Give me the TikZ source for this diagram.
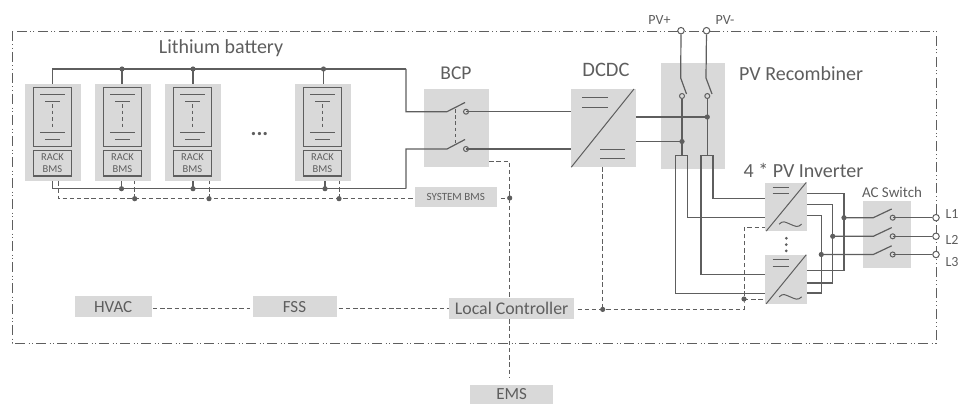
\documentclass[tikz,border=0pt]{standalone}
\usepackage{fontspec}
\setmainfont{Carlito}
\definecolor{ink}{HTML}{5E5E5E}
\definecolor{blockgray}{HTML}{D9D9D9}
\newcommand{\fs}[1]{\fontsize{#1}{#1}\selectfont}
\tikzset{
  block/.style={fill=blockgray,draw=none,inner sep=0pt,text=ink,align=center},
  cellbox/.style={draw=ink,line width=1.2pt,inner sep=0pt,text=ink,align=center,fill=none},
  txt/.style={inner sep=0pt,text=ink,align=center},
  wire/.style={draw=ink,line width=1.2pt,line join=miter},
  ctrl/.style={draw=ink,line width=1pt,dash pattern=on 4.4pt off 2.8pt},
  jdot/.style={circle,fill=ink,draw=none,inner sep=0pt,minimum size=5.2pt},
  port/.style={circle,fill=white,draw=ink,line width=1pt,inner sep=0pt,minimum size=6.5pt},
  contact/.style={circle,draw=ink,line width=1pt,inner sep=0pt,minimum size=5pt},
  sym/.style={draw=ink,line width=1pt},
}
\begin{document}
\begin{tikzpicture}[x=1pt,y=-1pt]
\useasboundingbox (0,0) rectangle (959,404);
% frame
\coordinate (fa) at (12,31); \coordinate (fb) at (936,343);
\draw[draw=ink,line width=.9pt,dash pattern=on 10pt off 3.5pt on 1pt off 2.5pt on 1pt off 3pt] (fa) rectangle (fb);
% racks
\foreach \n/\x/\y in {1/25/52.5,2/95/122,3/165/193,4/295/323.5}{
  \node[block,minimum width=56pt,minimum height=97pt] (rack\n) at (\x+28,132.5) {};
  \node[cellbox,minimum width=38pt,minimum height=58.6pt] (cell\n) at (\x+27.5,117) {};
  \node[cellbox,minimum width=38pt,minimum height=25.3pt,font=\fs{10.5}] (bms\n) at (\x+27.5,163.4) {RACK\\[1.5pt]BMS};
  \draw[sym] (\x+15,95) -- (\x+40,95);
  \draw[sym] (\x+20,101.7) -- (\x+35,101.7);
  \draw[draw=ink,line width=.9pt,dash pattern=on 3.5pt off 3pt] (\x+27.5,104) -- (\x+27.5,129);
  \draw[sym] (\x+15,132.7) -- (\x+40,132.7);
  \draw[sym] (\x+20,139) -- (\x+35,139);
}
\node[txt,font=\fs{20}] (libat) at (221,48) {Lithium battery};
\node[txt,font=\bfseries\fs{22}] (dots) at (259.5,134) {...};
% blocks
\node[block,minimum width=64.7pt,minimum height=78pt] (bcp) at (456.6,128) {};
\node[txt,font=\fs{19.5}] (bcplab) at (456,73) {BCP};
\node[block,minimum width=64.5pt,minimum height=78pt] (dcdc) at (603.7,128) {};
\node[txt,font=\fs{20.5}] (dcdclab) at (606,70) {DCDC};
\node[block,minimum width=64.3pt,minimum height=106pt] (pvr) at (692.8,116) {};
\node[txt,font=\fs{20},anchor=west] (pvrlab) at (739,74) {PV Recombiner};
\node[block,minimum width=41.7pt,minimum height=48.3pt] (inva) at (786.2,206.8) {};
\node[block,minimum width=41.7pt,minimum height=48.7pt] (invb) at (786.2,279.3) {};
\node[txt,font=\fs{20}] (invlab) at (803.5,170) {4 * PV Inverter};
\node[block,minimum width=47.4pt,minimum height=67pt] (acs) at (887,234.5) {};
\node[txt,font=\fs{15}] (acslab) at (892,192) {AC Switch};
\node[block,minimum width=82pt,minimum height=19.5pt,font=\fs{11}] (sbms) at (455.7,197.2) {SYSTEM BMS};
\node[block,minimum width=125.3pt,minimum height=21.3pt,font=\fs{17.8}] (lc) at (511.7,308.4) {Local Controller};
\node[block,minimum width=83.3pt,minimum height=19pt,font=\fs{17}] (ems) at (511.7,394.5) {\raisebox{-2pt}{EMS}};
\node[block,minimum width=77pt,minimum height=21.3pt,font=\fs{17}] (hvac) at (113.2,306.7) {HVAC};
\node[block,minimum width=84pt,minimum height=21.3pt,font=\fs{17}] (fss) at (294.5,306.7) {FSS};
% block symbols
\draw[sym] (dcdc.south west) -- (634,89);
\draw[sym] (582,98) -- (608,98); \draw[sym] (582,107.5) -- (608,107.5);
\draw[sym] (600,149) -- (625,149); \draw[sym] (600,158.5) -- (625,158.5);
\foreach \b in {inva,invb}{
  \draw[sym] ([shift={(1,0)}]\b.south west) -- ([shift={(-1,0)}]\b.north east);
  \draw[sym] ([shift={(7.5,5)}]\b.north west) -- ([shift={(24,5)}]\b.north west);
  \draw[sym] ([shift={(7.5,11.5)}]\b.north west) -- ([shift={(24,11.5)}]\b.north west);
  \draw[sym] ([shift={(14,-7)}]\b.south west) .. controls +(4,-4) and +(-5,-2) .. ([shift={(25,-7)}]\b.south west)
     .. controls +(5,2) and +(-4,4) .. ([shift={(36.5,-7)}]\b.south west);
}
\foreach \n/\y in {1/238.3,2/244.6,3/250.9}{ \fill[ink] (786.3,\y) circle (1.5pt); }
% junctions
\foreach \n/\x in {1/122,2/193,3/323.5}{ \node[jdot] (t\n) at (\x,69) {}; }
\foreach \n/\x in {1/121.5,2/193,3/325}{ \node[jdot] (m\n) at (\x,188.7) {}; }
\foreach \n/\x in {1/134.7,2/209,3/339}{ \node[jdot] (d\n) at (\x,198.7) {}; }
\coordinate (tl) at (52.5,69); \coordinate (tr) at (406,69);
\coordinate (ml) at (52.5,188.7); \coordinate (mr) at (406,188.7);
\coordinate (dl) at (58.5,198.7);
% battery buses
\draw[wire] (rack1.north -| tl) -- (tl) -- (t1.center) -- (t2.center) -- (t3.center) -- (tr);
\foreach \n/\k in {1/2,2/3,3/4}{ \draw[wire] (t\n.center) -- (t\n |- rack\k.north); }
\draw[wire] (rack1.south -| ml) -- (ml) -- (m1.center) -- (m2.center) -- (m3.center) -- (mr);
\foreach \n/\k in {1/2,2/3,3/4}{ \draw[wire] (m\n.center) -- (m\n |- rack\k.south); }
\draw[ctrl] (rack1.south -| dl) -- (dl) -- (d1.center) -- (d2.center) -- (d3.center) -- (sbms.west |- dl);
\foreach \n/\k in {1/2,2/3,3/4}{ \draw[ctrl] (d\n.center) -- (d\n |- rack\k.south); }
% BCP switches
\node[contact] (ca) at (466,111.7) {};
\node[contact] (cb) at (466,149) {};
\coordinate (ba) at (447,111.7); \coordinate (bb) at (447,149);
\draw[wire] (tr) -- (tr |- ba) -- (ba) -- (465,102.5);
\draw[wire] (mr) -- (mr |- bb) -- (bb) -- (465,139.5);
\draw[ctrl,dash pattern=on 3.6pt off 2.6pt] (455.7,109) -- (455.7,143);
\draw[wire] (ca.center) -- (ca -| dcdc.west);
\draw[wire] (cb.center) -- (cb -| dcdc.west);
% control lines
\node[jdot] (j1) at (509.7,198) {};
\node[jdot] (j2) at (602.7,309.4) {};
\node[jdot] (j3) at (744,299) {};
\coordinate (c1) at (509.7,161.5);
\coordinate (c2) at (509.7,378);
\coordinate (c3) at (744,309.4);
\coordinate (c4) at (744,227.3);
\draw[ctrl] (bcp.east |- c1) -- (c1) -- (j1.center) -- (j1 |- lc.north);
\draw[ctrl] (c2 |- lc.south) -- (c2);
\draw[ctrl] ([xshift=4pt]sbms.east |- j1) -- (j1.center);
\draw[ctrl] (dcdc.south -| j2) -- (j2.center);
\draw[ctrl] ([xshift=3pt]lc.east |- j2) -- (j2.center) -- (c3) -- (j3.center) -- (c4) -- (inva.west |- c4);
\draw[ctrl] (j3.center) -- (invb.west |- j3);
\draw[ctrl] ([xshift=1pt]hvac.east |- 0,308.8) -- ([xshift=-2pt]fss.west |- 0,308.8);
\draw[ctrl] ([xshift=2pt]fss.east |- 0,308.8) -- (lc.west |- 0,308.8);
% PV
\node[port] (pvp) at (681,30.7) {};
\node[port] (pvm) at (706.5,30.7) {};
\node[txt,font=\fs{14}] (pvpl) at (659.5,20) {PV+};
\node[txt,font=\fs{14}] (pvml) at (725,20) {PV-};
\node[contact] (cp) at (682,96) {};
\node[contact] (cm) at (707.3,96) {};
\draw[wire] (pvp) -- (680.7,78) -- (686.5,94);
\draw[wire] (pvm) -- (706,78) -- (712,94);
\node[jdot] (jm) at (707.3,117) {};
\node[jdot] (jp) at (682,141.5) {};
\draw[wire] (cp.south) -- (jp.center) -- (682,155.7);
\draw[wire] (cm.south) -- (jm.center) -- (707.3,155.7);
\draw[wire] (dcdc.east |- jm) -- (jm.center);
\draw[wire] (dcdc.east |- jp) -- (jp.center);
\draw[wire] (675.7,293.7) -- (675.7,155.7) -- (687.7,155.7) -- (687.7,217.3) -- (inva.west |- 0,217.3);
\draw[wire] (701,274.7) -- (701,155.7) -- (713,155.7) -- (713,198.7) -- (inva.west |- 0,198.7);
\draw[wire] (701,274.7) -- (invb.west |- 0,274.7);
\draw[wire] (675.7,293.7) -- (invb.west |- 0,293.7);
% inverter outputs
\node[jdot] (l1) at (844,217.7) {};
\node[jdot] (l2) at (832.7,236.3) {};
\node[jdot] (l3) at (821.3,254.5) {};
\draw[wire] (inva.east |- 0,193.7) -- (844,193.7) -- (l1.center) -- (844,270.3) -- (invb.east |- 0,270.3);
\draw[wire] (inva.east |- 0,204.3) -- (832.7,204.3) -- (l2.center) -- (832.7,283) -- (invb.east |- 0,283);
\draw[wire] (inva.east |- 0,215.7) -- (821.3,215.7) -- (l3.center) -- (821.3,293) -- (invb.east |- 0,293);
% AC switches
\node[contact] (k1) at (892.7,217.7) {};
\node[contact] (k2) at (892.7,236.3) {};
\node[contact] (k3) at (892.7,254.5) {};
\node[port] (o1) at (936,217.7) {};
\node[port] (o2) at (936,236.3) {};
\node[port] (o3) at (936,254.5) {};
\node[txt,font=\fs{14}] (ol1) at (952,214) {L1};
\node[txt,font=\fs{14}] (ol2) at (952,240) {L2};
\node[txt,font=\fs{14}] (ol3) at (952,262) {L3};
\foreach \n in {1,2,3}{
  \draw[wire] (l\n.center) -- (873.3,0 |- l\n) -- ([shift={(-1,-8.7)}]k\n.center);
  \draw[wire] (k\n.center) -- (o\n);
}
\end{tikzpicture}
\end{document}
